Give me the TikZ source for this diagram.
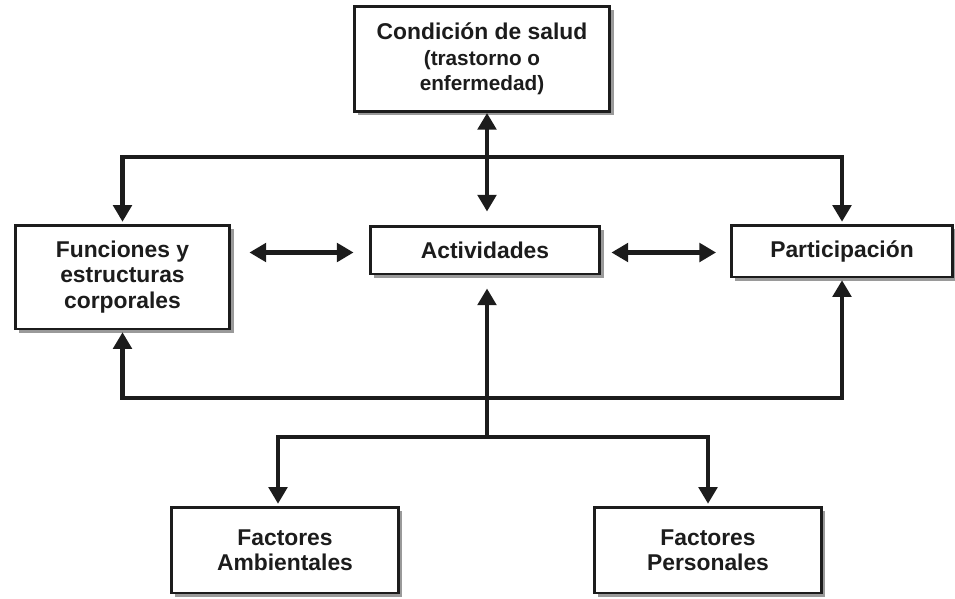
\documentclass[tikz,border=0pt]{standalone}
\usepackage{fontspec}
\setmainfont{Liberation Sans}
\usetikzlibrary{arrows.meta,shadows}
\definecolor{ink}{HTML}{1C1C1C}
\definecolor{shade}{HTML}{8F8F8F}
\newcommand{\SubLine}{\fontsize{11.8}{13.5}\selectfont}
\tikzset{
  BoxStyle/.style={
    draw=ink, line width=1.7pt, fill=white,
    align=center, inner sep=2pt, text=ink,
    font=\bfseries\fontsize{13}{14.5}\selectfont,
    drop shadow={shadow xshift=2.2pt, shadow yshift=-2.2pt, fill=shade, opacity=0.9}
  },
  LinkStyle/.style={draw=ink, line width=2.3pt},
  Tip/.tip={Triangle[width=10.5pt,length=9.5pt]}
}

\begin{document}
\begin{tikzpicture}[x=0.02cm, y=-0.02cm]
  \useasboundingbox (0,0) rectangle (955,598);

  \node[BoxStyle, minimum width=5.12cm, minimum height=2.1cm] (salud) at (482,59)
    {Condición de salud\\ \SubLine (trastorno o\\ \SubLine enfermedad)};
  \node[BoxStyle, minimum width=4.3cm, minimum height=2.08cm] (funciones) at (122.5,277)
    {Funciones y\\estructuras\\corporales};
  \node[BoxStyle, minimum width=4.6cm, minimum height=0.96cm] (actividades) at (485,250) {Actividades};
  \node[BoxStyle, minimum width=4.42cm, minimum height=1.04cm] (participacion) at (842,251) {Participación};
  \node[BoxStyle, minimum width=4.54cm, minimum height=1.72cm] (ambientales) at (285,550)
    {Factores\\Ambientales};
  \node[BoxStyle, minimum width=4.54cm, minimum height=1.72cm] (personales) at (708,550)
    {Factores\\Personales};

  \coordinate (upper) at (487,157);
  \coordinate (lower) at (487,398);
  \coordinate (fork) at (487,437);

  % health condition bar
  \draw[LinkStyle, Tip-Tip, shorten >=0.26cm] (salud.south -| upper) -- (actividades.north -| upper);
  \draw[LinkStyle, -Tip, shorten >=1pt] (upper) -| (funciones.north);
  \draw[LinkStyle, -Tip, shorten >=1pt] (upper) -| (participacion.north);

  \draw[LinkStyle, Tip-Tip, shorten <=0.36cm, shorten >=0.3cm] ([yshift=-0.05cm]funciones.east |- actividades) -- ([yshift=-0.05cm]actividades.west);
  \draw[LinkStyle, Tip-Tip, shorten <=0.2cm, shorten >=0.28cm] ([yshift=-0.05cm]actividades.east) -- ([yshift=-0.05cm]participacion.west |- actividades);

  % context factors
  \draw[LinkStyle, -Tip, shorten >=1pt] (lower) -| (funciones.south);
  \draw[LinkStyle, -Tip, shorten >=1pt] (lower) -| (participacion.south);
  \draw[LinkStyle, -Tip, shorten >=0.26cm] (fork) -- (actividades.south -| fork);
  \draw[LinkStyle, -Tip, shorten >=1pt] (fork) -| ([xshift=-0.14cm]ambientales.north);
  \draw[LinkStyle, -Tip, shorten >=1pt] (fork) -| (personales.north);
\end{tikzpicture}
\end{document}
